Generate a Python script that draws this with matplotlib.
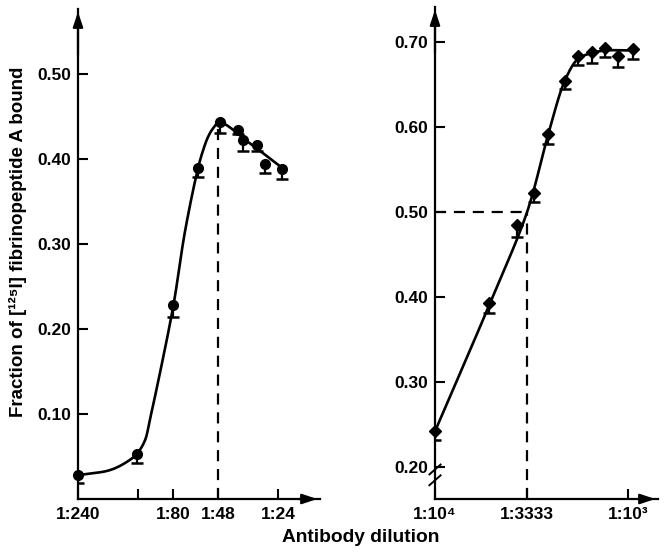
import numpy as np
import matplotlib
matplotlib.use('Agg')
import matplotlib.pyplot as plt

plt.rcParams['font.family'] = ['Liberation Sans', 'DejaVu Sans']
plt.rcParams['font.weight'] = 'bold'

# left panel: dilution (1:D), fraction bound, lower error
left_dil = [240, 122, 80, 60, 47, 38, 36, 30.6, 28, 23]
left_val = [0.028, 0.053, 0.228, 0.389, 0.443, 0.434, 0.422, 0.416, 0.394, 0.388]
left_err = [0.009, 0.011, 0.014, 0.010, 0.012, 0.005, 0.012, 0.006, 0.011, 0.011]
# hand-drawn fit curve
left_curve_dil = [240, 166, 136, 122, 111, 105, 97, 80, 70, 60.3, 56.9, 53.7, 50.7, 47, 33, 23]
left_curve_val = [0.028, 0.034, 0.044, 0.053, 0.069, 0.093, 0.13, 0.228, 0.315,
                  0.389, 0.41, 0.426, 0.436, 0.443, 0.418, 0.39]
left_ticks = [240, 120, 80, 48, 24]
left_ticklabels = ['1:240', '', '1:80', '1:48', '1:24']
left_peak = 47

# right panel
right_dil = [10000, 5250, 3760, 3070, 2600, 2120, 1818, 1540, 1316, 1126, 942]
right_val = [0.242, 0.393, 0.485, 0.522, 0.592, 0.654, 0.683, 0.688, 0.693, 0.683, 0.692]
right_err = [0.010, 0.012, 0.014, 0.010, 0.012, 0.009, 0.010, 0.013, 0.011, 0.012, 0.012]
right_curve_dil = [10000, 5250, 3333, 2600, 2120, 1818, 1540, 1316, 942]
right_curve_val = [0.242, 0.39, 0.50, 0.59, 0.655, 0.68, 0.687, 0.69, 0.69]
right_ticks = [10000, 3333, 1000]
right_ticklabels = ['1:10⁴', '1:3333', '1:10³']
half_dil = 3333


def smooth(dil, val, n=24):
    # centripetal Catmull-Rom through the knots (log x); returns concentration 1/D
    P = np.column_stack([-np.log10(dil) * 200, np.asarray(val) * 850])
    P = np.vstack([2 * P[0] - P[1], P, 2 * P[-1] - P[-2]])
    out = []
    for i in range(1, len(P) - 2):
        p0, p1, p2, p3 = P[i - 1], P[i], P[i + 1], P[i + 2]
        t0 = 0.0
        t1 = t0 + np.linalg.norm(p1 - p0) ** 0.5
        t2 = t1 + np.linalg.norm(p2 - p1) ** 0.5
        t3 = t2 + np.linalg.norm(p3 - p2) ** 0.5
        t = np.linspace(t1, t2, n)[:, None]
        a1 = (t1 - t) / (t1 - t0) * p0 + (t - t0) / (t1 - t0) * p1
        a2 = (t2 - t) / (t2 - t1) * p1 + (t - t1) / (t2 - t1) * p2
        a3 = (t3 - t) / (t3 - t2) * p2 + (t - t2) / (t3 - t2) * p3
        b1 = (t2 - t) / (t2 - t0) * a1 + (t - t0) / (t2 - t0) * a2
        b2 = (t3 - t) / (t3 - t1) * a2 + (t - t1) / (t3 - t1) * a3
        out.append((t2 - t) / (t2 - t1) * b1 + (t - t1) / (t2 - t1) * b2)
    out = np.vstack(out)
    return 10 ** (out[:, 0] / 200), out[:, 1] / 850


def setup(ax):
    for s in ['top', 'right']:
        ax.spines[s].set_visible(False)
    for s in ['left', 'bottom']:
        ax.spines[s].set_linewidth(1.6)
    ax.set_xscale('log')
    ax.minorticks_off()
    ax.tick_params(direction='in', length=7, width=1.5, labelsize=12.5)
    ax.tick_params(axis='y', pad=5)
    ax.tick_params(axis='x', pad=6)
    arrow = dict(arrowstyle='-|>,head_length=0.9,head_width=0.3', color='k', lw=1.6)
    ax.annotate('', xy=(0, 1.0), xytext=(0, 0.9), xycoords='axes fraction', arrowprops=arrow)
    ax.annotate('', xy=(1.0, 0), xytext=(0.9, 0), xycoords='axes fraction', arrowprops=arrow)


def draw(ax, dil, val, err, cdil, cval, marker):
    x = 1 / np.array(dil)
    y = np.array(val)
    lo = y - np.array(err)
    cx, cy = smooth(cdil, cval)
    ax.plot(cx, cy, color='k', lw=1.9, zorder=3)
    ax.vlines(x, lo, y, color='k', lw=1.6, zorder=3)
    ax.plot(x, lo, ls='none', marker='_', ms=9, mew=1.8, color='k', zorder=3)
    ax.plot(x, y, ls='none', marker=marker, ms=7 if marker == 'o' else 6.5, color='k',
            zorder=4, clip_on=False)


fig = plt.figure(figsize=(6.65, 5.52), dpi=100)

ax1 = fig.add_axes([78 / 665, 1 - 499 / 552, 242 / 665, 490 / 552])
setup(ax1)
ax1.set_ylim(0, 490 / 850)
ax1.set_xlim(1 / 240, 1 / 240 * 10 ** (242 / 200))
draw(ax1, left_dil, left_val, left_err, left_curve_dil, left_curve_val, 'o')
ax1.plot([1 / 48, 1 / 48], [0, left_val[left_dil.index(left_peak)]], color='k', lw=1.6,
         dashes=(5, 3.5))
ax1.set_xticks([1 / d for d in left_ticks])
ax1.set_xticklabels(left_ticklabels)
ax1.set_yticks([0.1, 0.2, 0.3, 0.4, 0.5])
ax1.set_yticklabels(['0.10', '0.20', '0.30', '0.40', '0.50'])

ax2 = fig.add_axes([435 / 665, 1 - 499 / 552, 223 / 665, 492 / 552])
setup(ax2)
ymin2 = 0.2 - 32 / 850
ax2.set_ylim(ymin2, 0.2 + 460 / 850)
ax2.set_xlim(1e-4, 1e-4 * 10 ** (223 / 193))
draw(ax2, right_dil, right_val, right_err, right_curve_dil, right_curve_val, 'D')
ax2.plot([1e-4, 1 / half_dil], [0.5, 0.5], color='k', lw=1.6, dashes=(5, 3.5))
ax2.plot([1 / half_dil, 1 / half_dil], [ymin2, 0.5], color='k', lw=1.6, dashes=(5, 3.5))
ax2.set_xticks([1 / d for d in right_ticks])
ax2.set_xticklabels(right_ticklabels)
ax2.set_yticks([0.2, 0.3, 0.4, 0.5, 0.6, 0.7])
ax2.set_yticklabels(['0.20', '0.30', '0.40', '0.50', '0.60', '0.70'])
# axis break marks
for dy in (0.0, 0.022):
    ax2.plot([-0.025, 0.025], [0.028 + dy, 0.048 + dy], color='k', lw=1.4,
             transform=ax2.transAxes, clip_on=False)

fig.text(0.027, 1 - 242 / 552, 'Fraction of [¹²⁵I] fibrinopeptide A bound', rotation=90,
         ha='center', va='center', fontsize=13.5)
fig.text(361 / 665, 1 - 538 / 552, 'Antibody dilution', ha='center', va='center', fontsize=13.8)

fig.savefig('out.png', dpi=100)
